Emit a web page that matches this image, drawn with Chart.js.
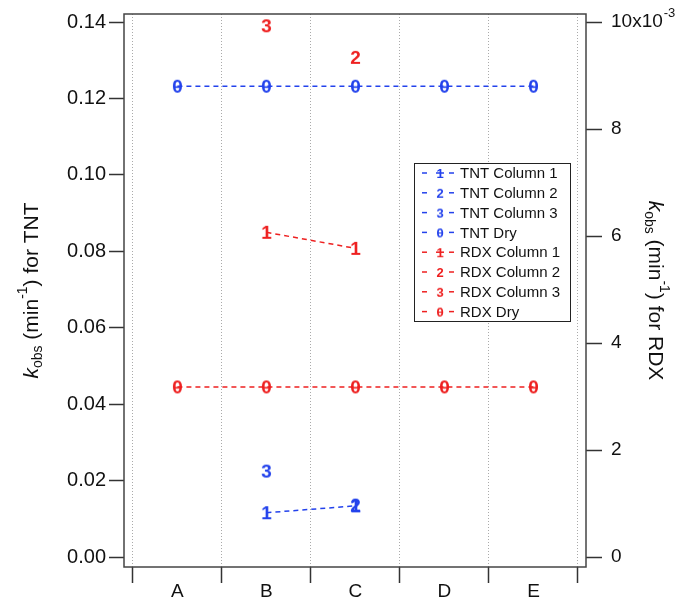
<!DOCTYPE html>
<html>
<head>
<meta charset="utf-8">
<script src="https://cdn.jsdelivr.net/npm/chart.js@4.4.1/dist/chart.umd.min.js"></script>
<style>
  html, body { margin: 0; padding: 0; background: #fff; }
  canvas { display: block; }
</style>
</head>
<body>
<canvas id="kobsChart" width="686" height="599"></canvas>
<script>
// dados
const categories = ['A', 'B', 'C', 'D', 'E'];
const tntCol1 = [null, 0.0116, 0.0134, null, null];
const tntCol2 = [null, null, 0.0136, null, null];
const tntCol3 = [null, 0.0225, null, null, null];
const tntDry  = [0.1232, 0.1232, 0.1232, 0.1232, 0.1232];
const rdxCol1 = [null, 0.00607, 0.00577, null, null];
const rdxCol2 = [null, null, 0.00934, null, null];
const rdxCol3 = [null, 0.00993, null, null, null];
const rdxDry  = [0.00318, 0.00318, 0.00318, 0.00318, 0.00318];
const tntTicks = [0, 0.02, 0.04, 0.06, 0.08, 0.10, 0.12, 0.14];
const rdxTicks = [0, 0.002, 0.004, 0.006, 0.008, 0.010];

const BLUE = '#2342ec';
const RED = '#ee2020';
const FONT = '"Liberation Sans", Arial, sans-serif';

// marcador = algarismo desenhado num canvas
function digitMarker(ch, color, size) {
    const c = document.createElement('canvas');
    c.width = Math.round(size * 0.8);
    c.height = Math.round(size * 1.1);
    const g = c.getContext('2d');
    g.fillStyle = color;
    g.font = `bold ${size}px ${FONT}`;
    g.textAlign = 'center';
    g.textBaseline = 'middle';
    g.fillText(ch, c.width / 2, c.height / 2 + 1);
    if (ch === '0') g.fillRect(c.width / 2 - size * 0.18, c.height / 2, size * 0.36, Math.max(1, size * 0.09));
    return c;
}

function toPoints(arr) {
    return arr.map((v, i) => v === null ? null : { x: i, y: v }).filter(p => p);
}

const series = [
    { label: 'TNT Column 1', data: tntCol1, mark: '1', color: BLUE, axis: 'y' },
    { label: 'TNT Column 2', data: tntCol2, mark: '2', color: BLUE, axis: 'y' },
    { label: 'TNT Column 3', data: tntCol3, mark: '3', color: BLUE, axis: 'y' },
    { label: 'TNT Dry',      data: tntDry,  mark: '0', color: BLUE, axis: 'y' },
    { label: 'RDX Column 1', data: rdxCol1, mark: '1', color: RED,  axis: 'y1' },
    { label: 'RDX Column 2', data: rdxCol2, mark: '2', color: RED,  axis: 'y1' },
    { label: 'RDX Column 3', data: rdxCol3, mark: '3', color: RED,  axis: 'y1' },
    { label: 'RDX Dry',      data: rdxDry,  mark: '0', color: RED,  axis: 'y1' }
];

const datasets = series.map(s => ({
    label: s.label,
    data: toPoints(s.data),
    yAxisID: s.axis,
    borderColor: s.color,
    borderWidth: 1.5,
    borderDash: [5, 4],
    pointStyle: digitMarker(s.mark, s.color, 19),
    legendMarker: digitMarker(s.mark, s.color, 13),
    legendBar: s.mark === '1',
    pointRadius: 8,
    showLine: true,
    fill: false,
    tension: 0,
    clip: false
}));

// ticks do eixo x: limites das categorias + centros
const xTicks = [];
categories.forEach((c, i) => { xTicks.push(i - 0.5); xTicks.push(i); });
xTicks.push(categories.length - 0.5);

const yMin = -0.0026, yMax = 0.1421;

function richText(g, parts, size) {
    const pieces = parts.map(p => {
        const s = p.sub || p.sup ? Math.round(size * 0.66) : size;
        const f = `${p.italic ? 'italic ' : ''}${s}px ${FONT}`;
        g.font = f;
        return { t: p.t, f, w: g.measureText(p.t).width, dy: p.sub ? size * 0.28 : p.sup ? -size * 0.42 : 0 };
    });
    const total = pieces.reduce((a, p) => a + p.w, 0);
    let x = -total / 2;
    g.textBaseline = 'middle';
    g.textAlign = 'left';
    pieces.forEach(p => { g.font = p.f; g.fillText(p.t, x, p.dy); x += p.w; });
}

function seg(g, x0, x1, y) {
    g.beginPath();
    g.moveTo(x0, y);
    g.lineTo(x1, y);
    g.stroke();
}

const extras = {
    id: 'extras',
    afterDraw(chart) {
        const g = chart.ctx;
        const ca = chart.chartArea;
        g.save();
        // moldura
        g.strokeStyle = '#444';
        g.lineWidth = 1.5;
        g.strokeRect(ca.left, ca.top, ca.right - ca.left, ca.bottom - ca.top);

        // títulos dos eixos
        g.fillStyle = '#111';
        const mid = (ca.top + ca.bottom) / 2;
        g.save();
        g.translate(32, mid);
        g.rotate(-Math.PI / 2);
        richText(g, [{ t: 'k', italic: true }, { t: 'obs', sub: true }, { t: ' (min' }, { t: '-1', sup: true }, { t: ') for TNT' }], 21);
        g.restore();
        g.save();
        g.translate(655, mid);
        g.rotate(Math.PI / 2);
        richText(g, [{ t: 'k', italic: true }, { t: 'obs', sub: true }, { t: ' (min' }, { t: '-1', sup: true }, { t: ') for RDX' }], 21);
        g.restore();

        // expoente do eixo direito
        const y1 = chart.scales.y1;
        const topY = y1.getPixelForValue(0.010);
        g.font = `19px ${FONT}`;
        const w = g.measureText('10x10').width;
        g.font = `13px ${FONT}`;
        g.textAlign = 'left';
        g.textBaseline = 'middle';
        g.fillText('-3', ca.right + 25 + w + 1, topY - 9);

        // legenda
        const lx = 414, ly = 163, lw = 156, lh = 158;
        g.fillStyle = '#fff';
        g.fillRect(lx, ly, lw, lh);
        g.strokeStyle = '#222';
        g.lineWidth = 1;
        g.strokeRect(lx + 0.5, ly + 0.5, lw, lh);
        chart.data.datasets.forEach((ds, i) => {
            const ry = ly + 10 + i * 19.8;
            g.strokeStyle = ds.borderColor;
            g.lineWidth = 1.5;
            seg(g, lx + 8, lx + 13, ry);
            if (ds.legendBar) seg(g, lx + 22, lx + 30, ry);
            seg(g, lx + 35, lx + 40, ry);
            const m = ds.legendMarker;
            g.drawImage(m, lx + 26 - m.width / 2, ry - m.height / 2);
            g.fillStyle = '#111';
            g.font = `15px ${FONT}`;
            g.textBaseline = 'middle';
            g.fillText(ds.label, lx + 46, ry + 1);
        });
        g.restore();
    }
};

new Chart(document.getElementById('kobsChart'), {
    type: 'scatter',
    data: { datasets },
    options: {
        responsive: false,
        animation: false,
        layout: { padding: { top: 14 } },
        plugins: { legend: { display: false }, tooltip: { enabled: false } },
        scales: {
            x: {
                type: 'linear',
                min: -0.6, max: categories.length - 0.41,
                afterBuildTicks: s => { s.ticks = xTicks.map(v => ({ value: v })); },
                afterFit: s => { s.height = 32; s.paddingLeft = 0; s.paddingRight = 0; },
                ticks: {
                    autoSkip: false, maxRotation: 0, padding: -3,
                    color: '#111', font: { family: FONT, size: 19 },
                    callback: v => Number.isInteger(v) ? categories[v] : ''
                },
                grid: {
                    color: c => c.tick && Number.isInteger(c.tick.value) ? 'rgba(0,0,0,0)' : '#aaaaaa',
                    tickColor: c => c.tick && Number.isInteger(c.tick.value) ? 'rgba(0,0,0,0)' : '#333',
                    lineWidth: 1, tickLength: 16, tickWidth: 1.5
                },
                border: { display: false, dash: [1, 2] }
            },
            y: {
                position: 'left',
                min: yMin, max: yMax,
                afterBuildTicks: s => { s.ticks = tntTicks.map(v => ({ value: v })); },
                afterFit: s => { s.width = 124; s.paddingTop = 0; s.paddingBottom = 0; },
                ticks: { color: '#111', padding: 3, font: { family: FONT, size: 20 }, callback: v => v.toFixed(2) },
                grid: { drawOnChartArea: false, tickLength: 15, tickColor: '#333', tickWidth: 1.5 },
                border: { display: false }
            },
            y1: {
                position: 'right',
                min: yMin / 14, max: yMax / 14,
                afterBuildTicks: s => { s.ticks = rdxTicks.map(v => ({ value: v })); },
                afterFit: s => { s.width = 100; s.paddingTop = 0; s.paddingBottom = 0; },
                ticks: {
                    color: '#111', padding: 9, font: { family: FONT, size: 19 },
                    callback: v => Math.round(v * 1000) === 10 ? '10x10' : String(Math.round(v * 1000))
                },
                grid: { drawOnChartArea: false, tickLength: 16, tickColor: '#333', tickWidth: 1.5 },
                border: { display: false }
            }
        }
    },
    plugins: [extras]
});
</script>
</body>
</html>
